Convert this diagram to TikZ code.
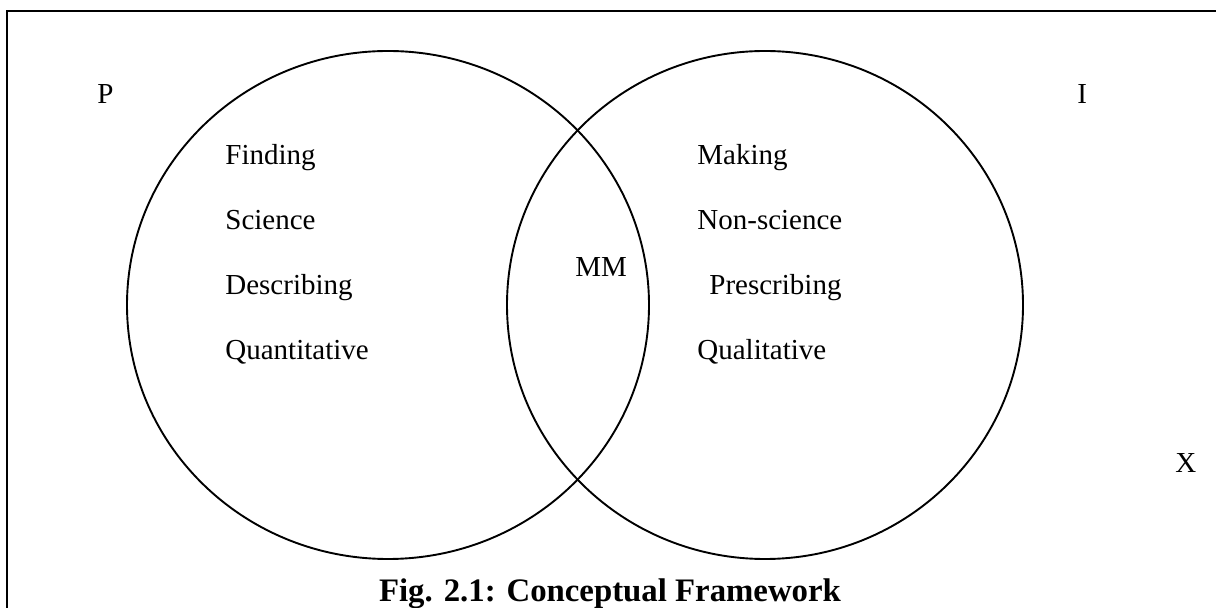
\documentclass[tikz,border=0pt]{standalone}
\usepackage{fontspec}
\usetikzlibrary{shapes.geometric}
\setmainfont{Liberation Serif}
\begin{document}
\begin{tikzpicture}[x=0.5pt,y=-0.5pt,
  ring/.style={ellipse,draw,line width=0.95pt,inner sep=0pt,outer sep=0pt},
  lbl/.style={anchor=base west,inner sep=0pt,font=\fontsize{14.5}{17}\selectfont},
  captxt/.style={anchor=base,inner sep=0pt,font=\fontsize{16.4}{19}\selectfont\bfseries}]
\useasboundingbox (0,0) rectangle (1216,608);
\coordinate (bl) at (7,620);
\coordinate (tl) at (7,11);
\coordinate (tr) at (1230,11);
\begin{scope}
\clip (0,0) rectangle (1216,608);
\draw[line width=1pt] (bl) -- (tl) -- (tr);
\end{scope}
\node[ring,minimum width=261pt,minimum height=254pt] (lc) at (388,305) {};
\node[ring,minimum width=258pt,minimum height=254pt] (rc) at (765,305) {};
\node[lbl] (p) at (97,104) {P};
\node[lbl] (i) at (1077,104) {I};
\node[lbl] (x) at (1175,473) {X};
\node[lbl] (mm) at (575,277) {MM};
\node[lbl] (l1) at (225,165) {Finding};
\node[lbl] (l2) at (225,230) {Science};
\node[lbl] (l3) at (225,295) {Describing};
\node[lbl] (l4) at (225,360) {Quantitative};
\node[lbl] (r1) at (697,165) {Making};
\node[lbl] (r2) at (697,230) {Non-science};
\node[lbl] (r3) at (709,295) {Prescribing};
\node[lbl] (r4) at (697,360) {Qualitative};
\node[captxt] (caption) at (610,602) {Fig. 2.1: Conceptual Framework};
\end{tikzpicture}
\end{document}
